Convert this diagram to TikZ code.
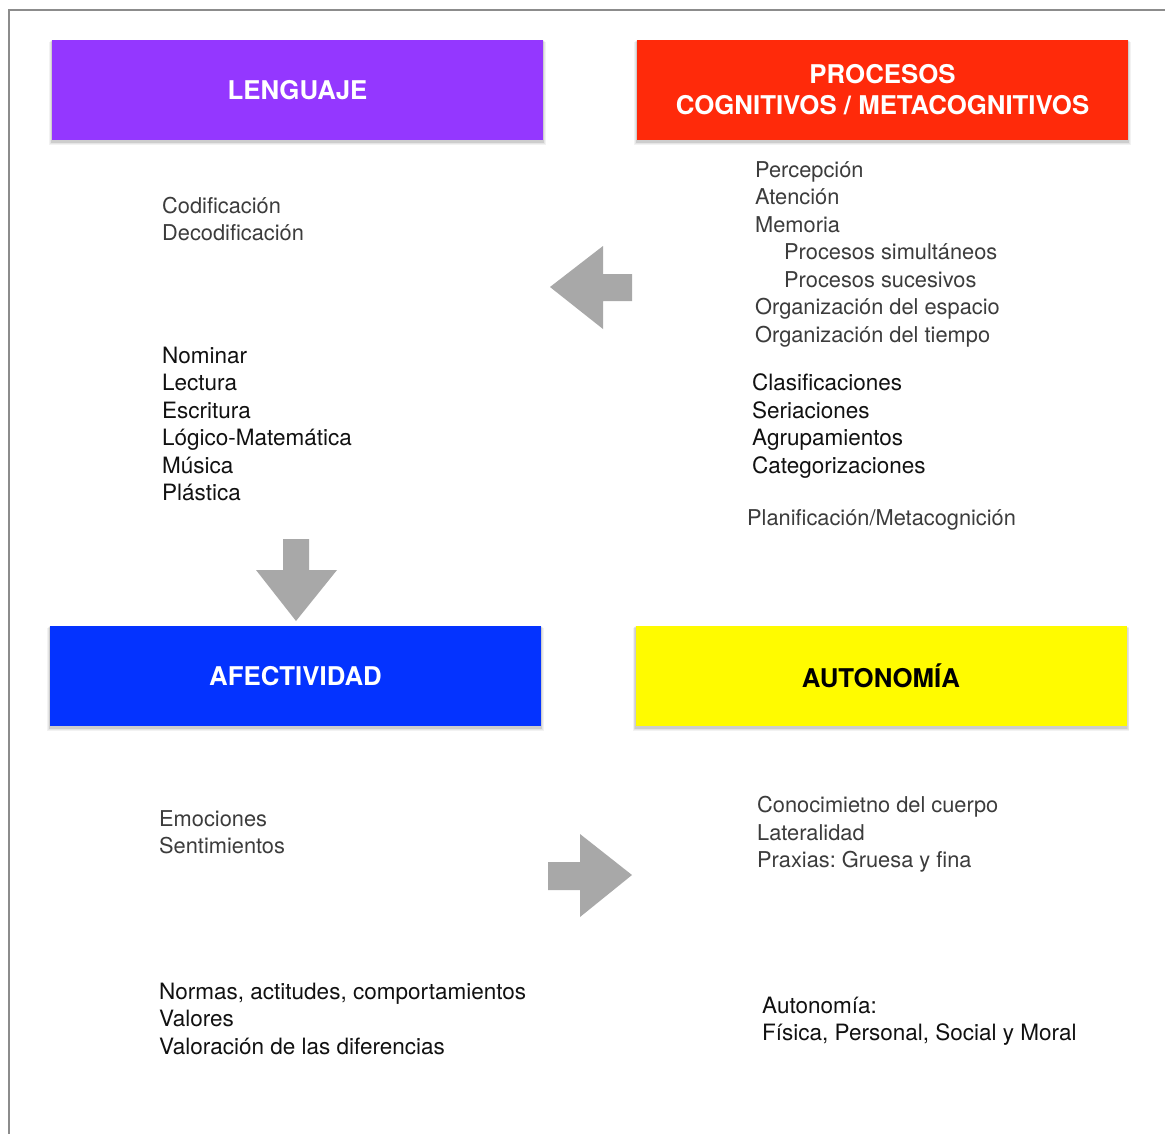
\documentclass[tikz,border=0pt]{standalone}
\usepackage{fontspec}
\setmainfont{TeX Gyre Heros}
\frenchspacing

\definecolor{lenguaje}{HTML}{9437FF}
\definecolor{procesos}{HTML}{FF2A0A}
\definecolor{afectividad}{HTML}{0433FF}
\definecolor{autonomia}{HTML}{FFFB00}
\definecolor{arrowgray}{HTML}{A8A8A8}
\definecolor{framegray}{HTML}{8C8C8C}
\definecolor{lighttext}{HTML}{3C3C3C}
\definecolor{darktext}{HTML}{111111}

\tikzset{
  headbox/.style={rectangle, minimum width=491pt, minimum height=100pt, inner sep=0pt,
    align=center, font=\fontsize{25.8}{31}\selectfont\bfseries},
  lightline/.style={anchor=base west, inner sep=0pt, text=lighttext,
    font=\fontsize{21.8}{27.5}\selectfont},
  darkline/.style={anchor=base west, inner sep=0pt, text=darktext,
    font=\fontsize{22.5}{27.5}\selectfont},
  blockarrow/.style={fill=arrowgray, draw=none}
}

% soft shadow under a heading box: stacked translucent rectangles
\newcommand\softshadow[1]{%
  \foreach \g in {1,2,3,4}{
    \fill[black, opacity=0.05]
      ([xshift=-\g*0.6pt, yshift={-1.5pt-\g*0.8pt}]#1.south west)
      rectangle ([xshift=\g*0.6pt, yshift={-\g*0.5pt}]#1.north east);
  }}

\begin{document}
\begin{tikzpicture}[x=1pt, y=-1pt]
  \useasboundingbox (0,0) rectangle (1165,1133);
  \fill[white] (0,0) rectangle (1165,1133);

  % outer frame (left and top edges)
  \draw[framegray, line width=2pt] (9,1140) -- (9,10) -- (1170,10);

  % heading boxes
  \path
    (297.5,90) coordinate (c-leng)
    (882.5,90) coordinate (c-proc)
    (295.5,676) coordinate (c-afec)
    (881,676) coordinate (c-auto);
  \node[headbox] (sh-leng) at (c-leng) {};
  \node[headbox] (sh-proc) at (c-proc) {};
  \node[headbox] (sh-afec) at (c-afec) {};
  \node[headbox] (sh-auto) at (c-auto) {};
  \softshadow{sh-leng}
  \softshadow{sh-proc}
  \softshadow{sh-afec}
  \softshadow{sh-auto}
  \node[headbox, fill=lenguaje, text=white] (leng) at (c-leng) {LENGUAJE};
  \node[headbox, fill=procesos, text=white] (proc) at (c-proc) {PROCESOS\\COGNITIVOS / METACOGNITIVOS};
  \node[headbox, fill=afectividad, text=white] (afec) at (c-afec) {AFECTIVIDAD};
  \node[headbox, fill=autonomia, text=black] (auto) at (c-auto) {AUTONOMÍA};

  % lenguaje
  \node[lightline] (cod1) at (162,213) {Codificación};
  \node[lightline] (cod2) at (162,240.5) {Decodificación};
  \node[darkline] (len1) at (162,363) {Nominar};
  \node[darkline] (len2) at (162,390.5) {Lectura};
  \node[darkline] (len3) at (162,418) {Escritura};
  \node[darkline] (len4) at (162,445.5) {Lógico-Matemática};
  \node[darkline] (len5) at (162,473) {Música};
  \node[darkline] (len6) at (162,500.5) {Plástica};

  % procesos cognitivos / metacognitivos
  \node[lightline] (pro1) at (755,177) {Percepción};
  \node[lightline] (pro2) at (755,204.5) {Atención};
  \node[lightline] (pro3) at (755,232) {Memoria};
  \node[lightline] (pro4) at (784,259.5) {Procesos simultáneos};
  \node[lightline] (pro5) at (784,287) {Procesos sucesivos};
  \node[lightline] (pro6) at (755,314.5) {Organización del espacio};
  \node[lightline] (pro7) at (755,342) {Organización del tiempo};
  \node[darkline] (cla1) at (752,390.5) {Clasificaciones};
  \node[darkline] (cla2) at (752,418) {Seriaciones};
  \node[darkline] (cla3) at (752,445.5) {Agrupamientos};
  \node[darkline] (cla4) at (752,473) {Categorizaciones};
  \node[lightline] (plan) at (747,525) {Planificación/Metacognición};

  % afectividad
  \node[lightline] (afe1) at (159,826) {Emociones};
  \node[lightline] (afe2) at (159,853.5) {Sentimientos};
  \node[darkline] (nor1) at (159,999) {Normas, actitudes, comportamientos};
  \node[darkline] (nor2) at (159,1026.5) {Valores};
  \node[darkline] (nor3) at (159,1054) {Valoración de las diferencias};

  % autonomia
  \node[lightline] (aut1) at (757,812.5) {Conocimietno del cuerpo};
  \node[lightline] (aut2) at (757,840) {Lateralidad};
  \node[lightline] (aut3) at (757,867.5) {Praxias: Gruesa y fina};
  \node[darkline] (aut4) at (762,1013) {Autonomía:};
  \node[darkline] (aut5) at (762,1040.5) {Física, Personal, Social y Moral};

  % block arrows
  \coordinate (ltip) at (550,287);
  \fill[blockarrow] (ltip) -- (603,246) -- (603,274) -- (632,274) -- (632,301)
    -- (603,301) -- (603,329) -- cycle;
  \coordinate (dtip) at (296,621);
  \fill[blockarrow] (dtip) -- (256,570) -- (283,570) -- (283,539) -- (309,539)
    -- (309,570) -- (337,570) -- cycle;
  \coordinate (rtip) at (632,875);
  \fill[blockarrow] (rtip) -- (580,834) -- (580,862) -- (548,862) -- (548,890)
    -- (580,890) -- (580,917) -- cycle;
\end{tikzpicture}
\end{document}
